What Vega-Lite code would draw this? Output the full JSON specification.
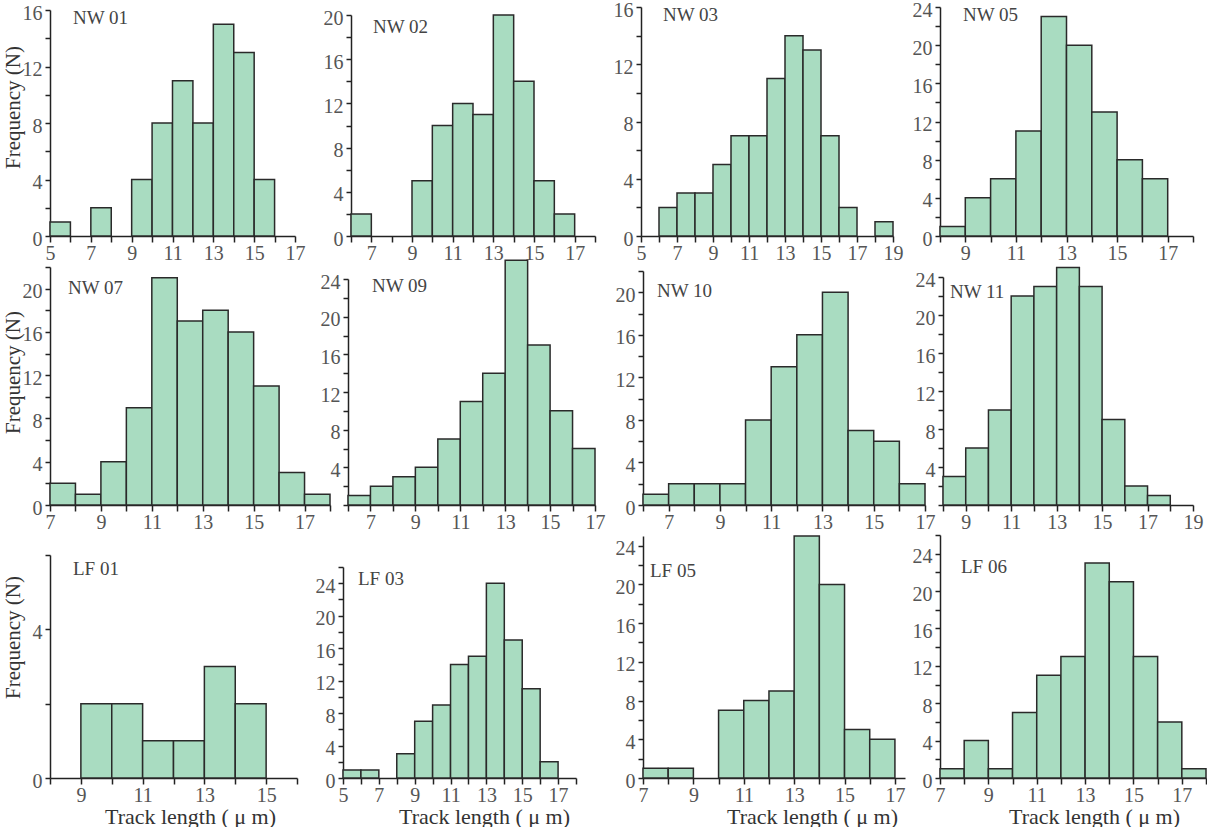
{
 "$schema": "https://vega.github.io/schema/vega-lite/v6.json",
 "padding": {"left": 2, "top": 0, "right": 0, "bottom": 0},
 "background": "white",
 "datasets": {
  "NW01": [{"start":5,"end":6,"count":1},{"start":7,"end":8,"count":2},{"start":9,"end":10,"count":4},{"start":10,"end":11,"count":8},{"start":11,"end":12,"count":11},{"start":12,"end":13,"count":8},{"start":13,"end":14,"count":15},{"start":14,"end":15,"count":13},{"start":15,"end":16,"count":4}],
  "NW02": [{"start":6,"end":7,"count":2},{"start":9,"end":10,"count":5},{"start":10,"end":11,"count":10},{"start":11,"end":12,"count":12},{"start":12,"end":13,"count":11},{"start":13,"end":14,"count":20},{"start":14,"end":15,"count":14},{"start":15,"end":16,"count":5},{"start":16,"end":17,"count":2}],
  "NW03": [{"start":6,"end":7,"count":2},{"start":7,"end":8,"count":3},{"start":8,"end":9,"count":3},{"start":9,"end":10,"count":5},{"start":10,"end":11,"count":7},{"start":11,"end":12,"count":7},{"start":12,"end":13,"count":11},{"start":13,"end":14,"count":14},{"start":14,"end":15,"count":13},{"start":15,"end":16,"count":7},{"start":16,"end":17,"count":2},{"start":18,"end":19,"count":1}],
  "NW05": [{"start":8,"end":9,"count":1},{"start":9,"end":10,"count":4},{"start":10,"end":11,"count":6},{"start":11,"end":12,"count":11},{"start":12,"end":13,"count":23},{"start":13,"end":14,"count":20},{"start":14,"end":15,"count":13},{"start":15,"end":16,"count":8},{"start":16,"end":17,"count":6}],
  "NW07": [{"start":7,"end":8,"count":2},{"start":8,"end":9,"count":1},{"start":9,"end":10,"count":4},{"start":10,"end":11,"count":9},{"start":11,"end":12,"count":21},{"start":12,"end":13,"count":17},{"start":13,"end":14,"count":18},{"start":14,"end":15,"count":16},{"start":15,"end":16,"count":11},{"start":16,"end":17,"count":3},{"start":17,"end":18,"count":1}],
  "NW09": [{"start":6,"end":7,"count":1},{"start":7,"end":8,"count":2},{"start":8,"end":9,"count":3},{"start":9,"end":10,"count":4},{"start":10,"end":11,"count":7},{"start":11,"end":12,"count":11},{"start":12,"end":13,"count":14},{"start":13,"end":14,"count":26},{"start":14,"end":15,"count":17},{"start":15,"end":16,"count":10},{"start":16,"end":17,"count":6}],
  "NW10": [{"start":6,"end":7,"count":1},{"start":7,"end":8,"count":2},{"start":8,"end":9,"count":2},{"start":9,"end":10,"count":2},{"start":10,"end":11,"count":8},{"start":11,"end":12,"count":13},{"start":12,"end":13,"count":16},{"start":13,"end":14,"count":20},{"start":14,"end":15,"count":7},{"start":15,"end":16,"count":6},{"start":16,"end":17,"count":2}],
  "NW11": [{"start":8,"end":9,"count":3},{"start":9,"end":10,"count":6},{"start":10,"end":11,"count":10},{"start":11,"end":12,"count":22},{"start":12,"end":13,"count":23},{"start":13,"end":14,"count":25},{"start":14,"end":15,"count":23},{"start":15,"end":16,"count":9},{"start":16,"end":17,"count":2},{"start":17,"end":18,"count":1}],
  "LF01": [{"start":9,"end":10,"count":2},{"start":10,"end":11,"count":2},{"start":11,"end":12,"count":1},{"start":12,"end":13,"count":1},{"start":13,"end":14,"count":3},{"start":14,"end":15,"count":2}],
  "LF03": [{"start":5,"end":6,"count":1},{"start":6,"end":7,"count":1},{"start":8,"end":9,"count":3},{"start":9,"end":10,"count":7},{"start":10,"end":11,"count":9},{"start":11,"end":12,"count":14},{"start":12,"end":13,"count":15},{"start":13,"end":14,"count":24},{"start":14,"end":15,"count":17},{"start":15,"end":16,"count":11},{"start":16,"end":17,"count":2}],
  "LF05": [{"start":7,"end":8,"count":1},{"start":8,"end":9,"count":1},{"start":10,"end":11,"count":7},{"start":11,"end":12,"count":8},{"start":12,"end":13,"count":9},{"start":13,"end":14,"count":25},{"start":14,"end":15,"count":20},{"start":15,"end":16,"count":5},{"start":16,"end":17,"count":4}],
  "LF06": [{"start":7,"end":8,"count":1},{"start":8,"end":9,"count":4},{"start":9,"end":10,"count":1},{"start":10,"end":11,"count":7},{"start":11,"end":12,"count":11},{"start":12,"end":13,"count":13},{"start":13,"end":14,"count":23},{"start":14,"end":15,"count":21},{"start":15,"end":16,"count":13},{"start":16,"end":17,"count":6},{"start":17,"end":18,"count":1}]
 },
 "columns": 4,
 "bounds": "flush",
 "spacing": {"row": 28, "column": 0},
 "concat": [
   {"data": {"name": "NW01"}, "width": 293, "height": 229,
    "title": {"text": "NW 01", "offset": -25, "dx": 23},
    "mark": "bar",
    "encoding": {
     "x": {"field": "start", "type": "quantitative", "scale": {"domain": [5,17], "range": [0,245], "nice": false}, "axis": {"title": null, "values": [5,6,7,8,9,10,11,12,13,14,15,16,17], "labelExpr": "datum.value % 2 == 1 ? datum.label : ''"}},
     "x2": {"field": "end"},
     "y": {"field": "count", "type": "quantitative", "scale": {"domain": [0,16], "range": [229,3], "nice": false}, "axis": {"title": "Frequency (N)", "titleX": -37, "titleY": 100, "titleBaseline": "middle", "titleFontSize": 21, "values": [0,2,4,6,8,10,12,14,16], "labelExpr": "datum.value % 4 == 0 ? datum.label : ''"}},
     "y2": {"datum": 0}
    }},
   {"data": {"name": "NW02"}, "width": 298, "height": 229,
    "title": {"text": "NW 02", "offset": -30, "dx": 30},
    "mark": "bar",
    "encoding": {
     "x": {"field": "start", "type": "quantitative", "scale": {"domain": [6,18], "range": [8,252], "nice": false}, "axis": {"title": null, "values": [6,7,8,9,10,11,12,13,14,15,16,17,18], "labelExpr": "datum.value % 2 == 1 ? datum.label : ''"}},
     "x2": {"field": "end"},
     "y": {"field": "count", "type": "quantitative", "scale": {"domain": [0,20], "range": [229,8], "nice": false}, "axis": {"title": null, "offset": -8, "values": [0,2,4,6,8,10,12,14,16,18,20], "labelExpr": "datum.value % 4 == 0 ? datum.label : ''"}},
     "y2": {"datum": 0}
    }},
   {"data": {"name": "NW03"}, "width": 299, "height": 229,
    "title": {"text": "NW 03", "offset": -25, "dx": 22},
    "mark": "bar",
    "encoding": {
     "x": {"field": "start", "type": "quantitative", "scale": {"domain": [5,19], "range": [0,252], "nice": false}, "axis": {"title": null, "values": [5,6,7,8,9,10,11,12,13,14,15,16,17,18,19], "labelExpr": "datum.value % 2 == 1 ? datum.label : ''"}},
     "x2": {"field": "end"},
     "y": {"field": "count", "type": "quantitative", "scale": {"domain": [0,16], "range": [229,0], "nice": false}, "axis": {"title": null, "values": [0,2,4,6,8,10,12,14,16], "labelExpr": "datum.value % 4 == 0 ? datum.label : ''"}},
     "y2": {"datum": 0}
    }},
   {"data": {"name": "NW05"}, "width": 267, "height": 229,
    "title": {"text": "NW 05", "offset": -25, "dx": 23},
    "mark": "bar",
    "encoding": {
     "x": {"field": "start", "type": "quantitative", "scale": {"domain": [8,18], "range": [0,253], "nice": false}, "axis": {"title": null, "values": [8,9,10,11,12,13,14,15,16,17,18], "labelExpr": "datum.value % 2 == 1 ? datum.label : ''"}},
     "x2": {"field": "end"},
     "y": {"field": "count", "type": "quantitative", "scale": {"domain": [0,24], "range": [229,0], "nice": false}, "axis": {"title": null, "values": [0,2,4,6,8,10,12,14,16,18,20,22,24], "labelExpr": "datum.value % 4 == 0 ? datum.label : ''"}},
     "y2": {"datum": 0}
    }},
   {"data": {"name": "NW07"}, "width": 293, "height": 241,
    "title": {"text": "NW 07", "offset": -38, "dx": 18},
    "mark": "bar",
    "encoding": {
     "x": {"field": "start", "type": "quantitative", "scale": {"domain": [7,18], "range": [0,280], "nice": false}, "axis": {"title": null, "values": [7,8,9,10,11,12,13,14,15,16,17,18], "labelExpr": "datum.value % 2 == 1 ? datum.label : ''"}},
     "x2": {"field": "end"},
     "y": {"field": "count", "type": "quantitative", "scale": {"domain": [0,22], "range": [241,3], "nice": false}, "axis": {"title": "Frequency (N)", "titleX": -37, "titleY": 108, "titleBaseline": "middle", "titleFontSize": 21, "values": [0,2,4,6,8,10,12,14,16,18,20,22], "labelExpr": "datum.value % 4 == 0 ? datum.label : ''"}},
     "y2": {"datum": 0}
    }},
   {"data": {"name": "NW09"}, "width": 298, "height": 241,
    "title": {"text": "NW 09", "offset": -37, "dx": 29},
    "mark": "bar",
    "encoding": {
     "x": {"field": "start", "type": "quantitative", "scale": {"domain": [6,17], "range": [5,252], "nice": false}, "axis": {"title": null, "values": [6,7,8,9,10,11,12,13,14,15,16,17], "labelExpr": "datum.value % 2 == 1 ? datum.label : ''"}},
     "x2": {"field": "end"},
     "y": {"field": "count", "type": "quantitative", "scale": {"domain": [0,24], "range": [241,15], "nice": false}, "axis": {"title": null, "offset": -5, "values": [0,2,4,6,8,10,12,14,16,18,20,22,24], "labelExpr": "datum.value % 4 == 0 && datum.value > 0 ? datum.label : ''"}},
     "y2": {"datum": 0}
    }},
   {"data": {"name": "NW10"}, "width": 299, "height": 241,
    "title": {"text": "NW 10", "offset": -37, "dx": 16},
    "mark": "bar",
    "encoding": {
     "x": {"field": "start", "type": "quantitative", "scale": {"domain": [6,17], "range": [2,284], "nice": false}, "axis": {"title": null, "values": [6,7,8,9,10,11,12,13,14,15,16,17], "labelExpr": "datum.value % 2 == 1 ? datum.label : ''"}},
     "x2": {"field": "end"},
     "y": {"field": "count", "type": "quantitative", "scale": {"domain": [0,22], "range": [241,7], "nice": false}, "axis": {"title": null, "offset": -2, "values": [0,2,4,6,8,10,12,14,16,18,20,22], "labelExpr": "datum.value % 4 == 0 ? datum.label : ''"}},
     "y2": {"datum": 0}
    }},
   {"data": {"name": "NW11"}, "width": 267, "height": 241,
    "title": {"text": "NW 11", "offset": -38, "dx": 10},
    "mark": "bar",
    "encoding": {
     "x": {"field": "start", "type": "quantitative", "scale": {"domain": [8,19], "range": [3,253], "nice": false}, "axis": {"title": null, "values": [8,9,10,11,12,13,14,15,16,17,18,19], "labelExpr": "datum.value % 2 == 1 ? datum.label : ''"}},
     "x2": {"field": "end"},
     "y": {"field": "count", "type": "quantitative", "scale": {"domain": [0,24], "range": [241,13], "nice": false}, "axis": {"title": null, "offset": -3, "values": [0,2,4,6,8,10,12,14,16,18,20,22,24], "labelExpr": "datum.value % 4 == 0 && datum.value > 0 ? datum.label : ''"}},
     "y2": {"datum": 0}
    }},
   {"data": {"name": "LF01"}, "width": 293, "height": 245,
    "title": {"text": "LF 01", "offset": -46, "dx": 23},
    "mark": "bar",
    "encoding": {
     "x": {"field": "start", "type": "quantitative", "scale": {"domain": [8,16], "range": [0,247], "nice": false}, "axis": {"title": "Track length ( μ m)", "titleX": 140, "titleY": 45, "titleBaseline": "alphabetic", "titleFontSize": 22, "values": [8,9,10,11,12,13,14,15,16], "labelExpr": "datum.value % 2 == 1 ? datum.label : ''"}},
     "x2": {"field": "end"},
     "y": {"field": "count", "type": "quantitative", "scale": {"domain": [0,6], "range": [245,22], "nice": false}, "axis": {"title": "Frequency (N)", "titleX": -37, "titleY": 104, "titleBaseline": "middle", "titleFontSize": 21, "values": [0,2,4,6], "labelExpr": "datum.value % 4 == 0 ? datum.label : ''"}},
     "y2": {"datum": 0}
    }},
   {"data": {"name": "LF03"}, "width": 298, "height": 245,
    "title": {"text": "LF 03", "offset": -56, "dx": 15},
    "mark": "bar",
    "encoding": {
     "x": {"field": "start", "type": "quantitative", "scale": {"domain": [5,18], "range": [0,233], "nice": false}, "axis": {"title": "Track length ( μ m)", "titleX": 141, "titleY": 45, "titleBaseline": "alphabetic", "titleFontSize": 22, "values": [5,6,7,8,9,10,11,12,13,14,15,16,17,18], "labelExpr": "datum.value % 2 == 1 ? datum.label : ''"}},
     "x2": {"field": "end"},
     "y": {"field": "count", "type": "quantitative", "scale": {"domain": [0,26], "range": [245,34], "nice": false}, "axis": {"title": null, "values": [0,2,4,6,8,10,12,14,16,18,20,22,24,26], "labelExpr": "datum.value % 4 == 0 ? datum.label : ''"}},
     "y2": {"datum": 0}
    }},
   {"data": {"name": "LF05"}, "width": 299, "height": 245,
    "title": {"text": "LF 05", "offset": -48, "dx": 9},
    "mark": "bar",
    "encoding": {
     "x": {"field": "start", "type": "quantitative", "scale": {"domain": [7,17.4], "range": [2,264], "nice": false}, "axis": {"title": "Track length ( μ m)", "titleX": 171, "titleY": 45, "titleBaseline": "alphabetic", "titleFontSize": 22, "values": [7,8,9,10,11,12,13,14,15,16,17], "labelExpr": "datum.value % 2 == 1 ? datum.label : ''"}},
     "x2": {"field": "end"},
     "y": {"field": "count", "type": "quantitative", "scale": {"domain": [0,25], "range": [245,3], "nice": false}, "axis": {"title": null, "offset": -2, "values": [0,2,4,6,8,10,12,14,16,18,20,22,24], "labelExpr": "datum.value % 4 == 0 ? datum.label : ''"}},
     "y2": {"datum": 0}
    }},
   {"data": {"name": "LF06"}, "width": 267, "height": 245,
    "title": {"text": "LF 06", "offset": -49, "dx": 21},
    "mark": "bar",
    "encoding": {
     "x": {"field": "start", "type": "quantitative", "scale": {"domain": [7,18], "range": [0,266], "nice": false}, "axis": {"title": "Track length ( μ m)", "titleX": 154, "titleY": 45, "titleBaseline": "alphabetic", "titleFontSize": 22, "values": [7,8,9,10,11,12,13,14,15,16,17,18], "labelExpr": "datum.value % 2 == 1 ? datum.label : ''"}},
     "x2": {"field": "end"},
     "y": {"field": "count", "type": "quantitative", "scale": {"domain": [0,26], "range": [245,2], "nice": false}, "axis": {"title": null, "values": [0,2,4,6,8,10,12,14,16,18,20,22,24,26], "labelExpr": "datum.value % 4 == 0 ? datum.label : ''"}},
     "y2": {"datum": 0}
    }}
 ],
 "config": {
  "view": {"stroke": null},
  "font": "Liberation Serif",
  "axis": {"grid": false, "domainColor": "#222222", "domainWidth": 1.5, "tickColor": "#222222", "tickWidth": 1.5, "tickSize": 5, "labelFont": "Liberation Serif", "labelFontSize": 20, "labelColor": "#555555", "labelFlush": false, "labelOverlap": false, "titleFont": "Liberation Serif", "titleFontWeight": "normal", "titleColor": "#333333"},
  "axisX": {"labelPadding": 1, "tickSize": 6},
  "axisY": {"labelPadding": 3, "labelOffset": 3},
  "bar": {"color": "#a9dcc1", "stroke": "#2a2a2a", "strokeWidth": 1.5},
  "title": {"font": "Liberation Serif", "fontSize": 19, "fontWeight": "normal", "color": "#444444", "anchor": "start", "frame": "group", "baseline": "alphabetic"}
 }
}
